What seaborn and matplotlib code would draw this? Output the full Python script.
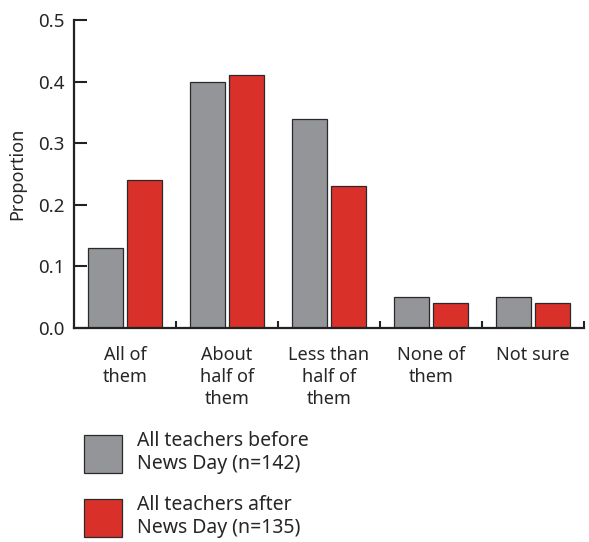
import pandas as pd
import matplotlib
matplotlib.use("Agg")
import matplotlib.pyplot as plt
import seaborn as sns

# values
categories = ["All of\nthem", "About\nhalf of\nthem", "Less than\nhalf of\nthem", "None of\nthem", "Not sure"]
before_vals = [0.13, 0.40, 0.34, 0.05, 0.05]
after_vals = [0.24, 0.41, 0.23, 0.04, 0.04]
group_labels = ["All teachers before\nNews Day (n=142)", "All teachers after\nNews Day (n=135)"]
yticks = [0.0, 0.1, 0.2, 0.3, 0.4, 0.5]

df = pd.DataFrame({
    "category": categories * 2,
    "group": [group_labels[0]] * len(categories) + [group_labels[1]] * len(categories),
    "value": before_vals + after_vals,
})

sns.set_style("white")
plt.rcParams["font.family"] = ["Noto Sans", "DejaVu Sans"]

fig = plt.figure(figsize=(5.89, 5.42), dpi=100)
ax = fig.add_axes([0.1256, 0.3948, 0.8659, 0.5682])

sns.barplot(data=df, x="category", y="value", hue="group",
            palette=["#939598", "#d9302a"], saturation=1, width=0.77, gap=0.1,
            edgecolor="#2a2a2a", linewidth=0.9, ax=ax)

ax.set_ylim(0, 0.5)
ax.set_xlim(-0.5, 4.5)
ax.set_yticks(yticks)
ax.set_yticklabels([f"{t:.1f}" for t in yticks], fontsize=13.5)
ax.set_ylabel("Proportion", fontsize=13, labelpad=8)
ax.set_xlabel("")

# category labels without ticks, separators as minor ticks
ax.tick_params(axis="x", which="major", length=0, labelsize=13, pad=13)
for lab in ax.get_xticklabels():
    lab.set_linespacing(1.28)
ax.set_xticks([0.5, 1.5, 2.5, 3.5, 4.5], minor=True)
ax.tick_params(axis="x", which="minor", bottom=True, direction="in", length=5, width=1.5, color="#222222")
ax.tick_params(axis="y", left=True, direction="in", length=9, width=1.5, color="#222222", pad=7)

sns.despine(ax=ax)
for s in ["left", "bottom"]:
    ax.spines[s].set_linewidth(1.6)
    ax.spines[s].set_color("#222222")

handles, labels = ax.get_legend_handles_labels()
ax.get_legend().remove()
fig.legend(handles, group_labels, loc="upper left", bbox_to_anchor=(0.1426, 0.205),
           frameon=False, fontsize=14, handlelength=1.96, handleheight=2.63,
           handletextpad=0.77, labelspacing=1.1, borderpad=0, borderaxespad=0)

fig.savefig("out.png", dpi=100)
